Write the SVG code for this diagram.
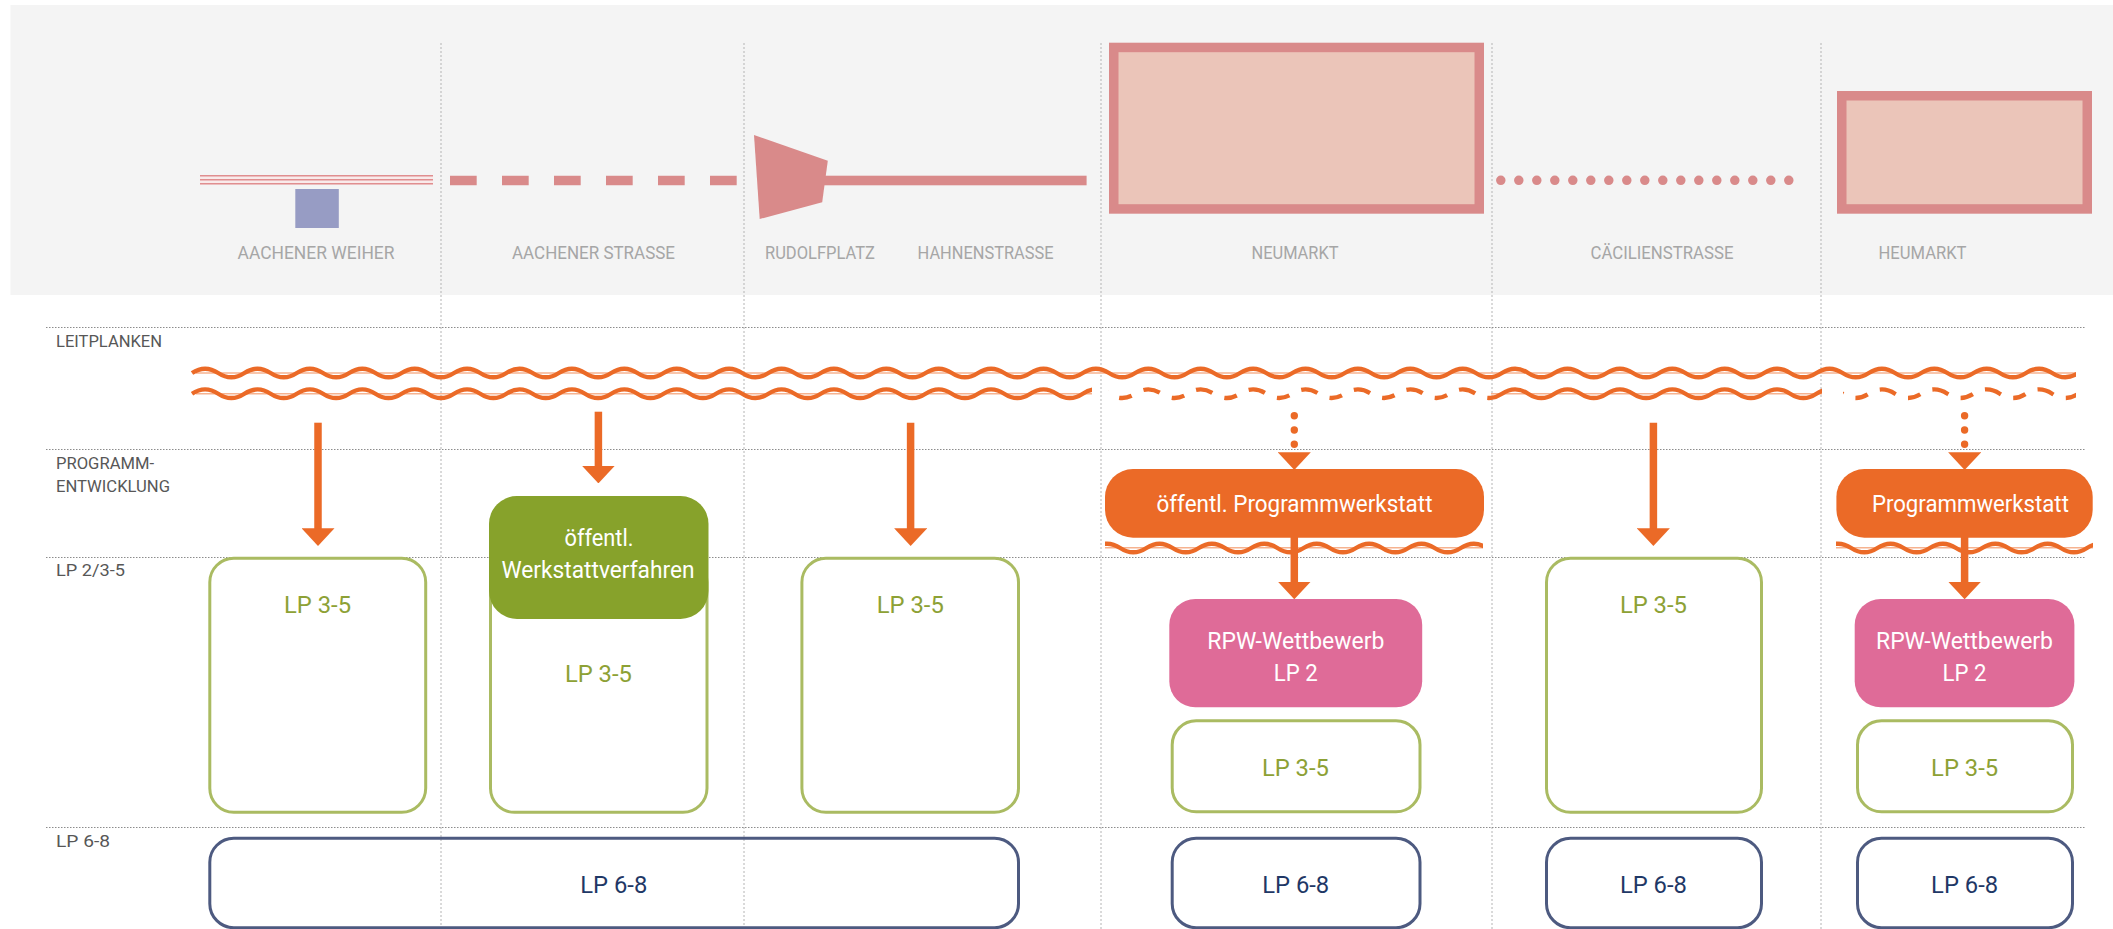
<svg xmlns="http://www.w3.org/2000/svg" xmlns:xlink="http://www.w3.org/1999/xlink" width="2113" height="929" viewBox="0 0 2113 929">
<defs>
<style>
.vgrid{stroke:#b4b4b4;stroke-width:1;stroke-dasharray:2 2;fill:none}
.hgrid{stroke:#8c8c8c;stroke-width:1;stroke-dasharray:1.5 1.5;fill:none}
.loc{font-family:Roboto,"Liberation Sans",sans-serif;font-size:17.5px;fill:#a6a6a6;text-anchor:middle}
.row{font-family:Roboto,"Liberation Sans",sans-serif;font-size:16px;fill:#575757}
.pink{fill:#d98a8a}
.wv{fill:none;stroke:#eb6a27;stroke-width:4.3}
.pale{stroke:#f6b28f;stroke-width:1.5;fill:none}
.dsh{stroke-dasharray:17 12.98 13 12.97;stroke-dashoffset:50.46}
.shaft{stroke:#eb6a27;stroke-width:7.5;fill:none;marker-end:url(#ah)}
.dots{stroke:#eb6a27;stroke-width:7.4;stroke-linecap:round;stroke-dasharray:0 14.3;fill:none;marker-end:url(#ah)}
.lp35{fill:none;stroke:#aabb62;stroke-width:3}
.lp68{fill:none;stroke:#4d5a80;stroke-width:3}
.bt{font-family:Roboto,"Liberation Sans",sans-serif;font-size:24px;text-anchor:middle}
.g{fill:#8da135}
.n{fill:#1f3866}
.w{fill:#ffffff}
</style>
<marker id="ah" markerUnits="userSpaceOnUse" viewBox="0 0 17.7 33" markerWidth="17.7" markerHeight="33" refX="0.7" refY="16.5" orient="auto">
<path d="M0,0 L17.7,16.5 L0,33 Z" fill="#eb6a27"/>
</marker>
<path id="wave" d="M192,0 q13.1,-8.6 26.2,0
t26.2,0 t26.2,0 t26.2,0 t26.2,0 t26.2,0 t26.2,0 t26.2,0 t26.2,0 t26.2,0 t26.2,0
t26.2,0 t26.2,0 t26.2,0 t26.2,0 t26.2,0 t26.2,0 t26.2,0 t26.2,0 t26.2,0 t26.2,0
t26.2,0 t26.2,0 t26.2,0 t26.2,0 t26.2,0 t26.2,0 t26.2,0 t26.2,0 t26.2,0 t26.2,0
t26.2,0 t26.2,0 t26.2,0 t26.2,0 t26.2,0 t26.2,0 t26.2,0 t26.2,0 t26.2,0 t26.2,0
t26.2,0 t26.2,0 t26.2,0 t26.2,0 t26.2,0 t26.2,0 t26.2,0 t26.2,0 t26.2,0 t26.2,0
t26.2,0 t26.2,0 t26.2,0 t26.2,0 t26.2,0 t26.2,0 t26.2,0 t26.2,0 t26.2,0 t26.2,0
t26.2,0 t26.2,0 t26.2,0 t26.2,0 t26.2,0 t26.2,0 t26.2,0 t26.2,0 t26.2,0 t26.2,0
t26.2,0 t26.2,0 t26.2,0 t26.2,0 t26.2,0 t26.2,0 t26.2,0 t26.2,0 t26.2,0 t26.2,0"/>
<path id="bwave" d="M0,0 q13.1,-8.6 26.2,0 t26.2,0 t26.2,0 t26.2,0 t26.2,0 t26.2,0 t26.2,0 t26.2,0 t26.2,0 t26.2,0 t26.2,0 t26.2,0 t26.2,0 t26.2,0 t26.2,0 t26.2,0"/>
<clipPath id="cCont"><rect x="180" y="370" width="912" height="40"/><rect x="1491" y="370" width="331" height="40"/></clipPath>
<clipPath id="cDash"><rect x="1108" y="370" width="383" height="40"/><rect x="1843" y="370" width="233" height="40"/></clipPath>
<clipPath id="cTop"><rect x="180" y="350" width="1896" height="40"/></clipPath>
<clipPath id="cB1"><rect x="1105" y="530" width="378" height="30"/></clipPath>
<clipPath id="cB2"><rect x="1836" y="530" width="257" height="30"/></clipPath>
</defs>

<g id="background">
<rect x="10.5" y="5" width="2102.5" height="290" fill="#f4f4f4"/>
</g>

<g id="grid">
<line class="vgrid" x1="441" y1="43" x2="441" y2="929"/>
<line class="vgrid" x1="744" y1="43" x2="744" y2="929"/>
<line class="vgrid" x1="1101" y1="43" x2="1101" y2="929"/>
<line class="vgrid" x1="1492" y1="43" x2="1492" y2="929"/>
<line class="vgrid" x1="1821" y1="43" x2="1821" y2="929"/>
<line class="hgrid" x1="46" y1="327.5" x2="2085" y2="327.5"/>
<line class="hgrid" x1="46" y1="449.5" x2="2085" y2="449.5"/>
<line class="hgrid" x1="46" y1="557.5" x2="2085" y2="557.5"/>
<line class="hgrid" x1="46" y1="827.5" x2="2085" y2="827.5"/>
</g>

<g id="aachener-weiher">
<rect x="200" y="175" width="233" height="9.5" fill="#f9eaea"/>
<line x1="200" y1="175.8" x2="433" y2="175.8" stroke="#e08e8f" stroke-width="1.4"/>
<line x1="200" y1="179.8" x2="433" y2="179.8" stroke="#e08e8f" stroke-width="1.4"/>
<line x1="200" y1="183.8" x2="433" y2="183.8" stroke="#e08e8f" stroke-width="1.4"/>
<rect x="295.3" y="189" width="43.5" height="39" fill="#979cc4"/>
<text class="loc" x="316" y="259.3" textLength="157" lengthAdjust="spacingAndGlyphs">AACHENER WEIHER</text>
</g>

<g id="aachener-strasse">
<line x1="450" y1="180.5" x2="737" y2="180.5" stroke="#d98a8a" stroke-width="9.6" stroke-dasharray="26.7 25.3"/>
<text class="loc" x="593.5" y="259.3" textLength="163" lengthAdjust="spacingAndGlyphs">AACHENER STRASSE</text>
</g>

<g id="rudolfplatz">
<polygon class="pink" points="754,135 827.8,160.7 822.2,202.3 759.7,219"/>
<text class="loc" x="820" y="259.3" textLength="110" lengthAdjust="spacingAndGlyphs">RUDOLFPLATZ</text>
</g>

<g id="hahnenstrasse">
<rect class="pink" x="820" y="175.7" width="266.6" height="9.6"/>
<text class="loc" x="985.6" y="259.3" textLength="136" lengthAdjust="spacingAndGlyphs">HAHNENSTRASSE</text>
</g>

<g id="neumarkt">
<rect x="1113.75" y="47.45" width="365.5" height="161.5" fill="#ebc5b9" stroke="#d98a8a" stroke-width="9.5"/>
<text class="loc" x="1295" y="259.3" textLength="87" lengthAdjust="spacingAndGlyphs">NEUMARKT</text>
</g>

<g id="caecilienstrasse">
<line x1="1500.8" y1="180.3" x2="1806.8" y2="180.3" stroke="#d98a8a" stroke-width="9.5" stroke-linecap="round" stroke-dasharray="0 18"/>
<text class="loc" x="1662" y="259.3" textLength="143" lengthAdjust="spacingAndGlyphs">CÄCILIENSTRASSE</text>
</g>

<g id="heumarkt">
<rect x="1841.75" y="95.75" width="245.5" height="113.2" fill="#ebc5b9" stroke="#d98a8a" stroke-width="9.5"/>
<text class="loc" x="1922.5" y="259.3" textLength="88" lengthAdjust="spacingAndGlyphs">HEUMARKT</text>
</g>

<g id="row-labels">
<text class="row" x="56" y="346.7" textLength="106" lengthAdjust="spacingAndGlyphs">LEITPLANKEN</text>
<text class="row" x="56" y="469" textLength="98" lengthAdjust="spacingAndGlyphs">PROGRAMM-</text>
<text class="row" x="56" y="492.3" textLength="114" lengthAdjust="spacingAndGlyphs">ENTWICKLUNG</text>
<text class="row" x="56" y="575.7" textLength="69" lengthAdjust="spacingAndGlyphs">LP 2/3-5</text>
<text class="row" x="56" y="846.7" textLength="54" lengthAdjust="spacingAndGlyphs">LP 6-8</text>
</g>

<g id="leitplanken">
<line class="pale" x1="196" y1="373" x2="2076" y2="373"/>
<g clip-path="url(#cTop)"><use xlink:href="#wave" href="#wave" class="wv" y="373"/></g>
<line class="pale" x1="196" y1="393.7" x2="1092" y2="393.7"/>
<line class="pale" x1="1491" y1="393.7" x2="1822" y2="393.7"/>
<g clip-path="url(#cCont)"><use xlink:href="#wave" href="#wave" class="wv" y="393.7"/></g>
<g clip-path="url(#cDash)"><use xlink:href="#wave" href="#wave" class="wv dsh" y="393.7"/></g>
</g>

<g id="node-lp35-1">
<rect class="lp35" x="209.8" y="558.2" width="215.9" height="254.1" rx="24"/>
<text class="bt g" x="317.5" y="612.7" textLength="67" lengthAdjust="spacingAndGlyphs">LP 3-5</text>
</g>
<g id="node-lp35-2">
<rect class="lp35" x="490.5" y="558.2" width="216.5" height="254.1" rx="24"/>
<text class="bt g" x="598.4" y="682.3" textLength="67" lengthAdjust="spacingAndGlyphs">LP 3-5</text>
</g>
<g id="node-werkstattverfahren">
<rect x="489" y="496" width="219.5" height="123" rx="28" fill="#87a22b"/>
<text class="bt w" x="599" y="546" font-size="23" textLength="69" lengthAdjust="spacingAndGlyphs">öffentl.</text>
<text class="bt w" x="598" y="578.3" font-size="23" textLength="193" lengthAdjust="spacingAndGlyphs">Werkstattverfahren</text>
</g>
<g id="node-lp35-3">
<rect class="lp35" x="801.9" y="558.2" width="216.6" height="254.1" rx="24"/>
<text class="bt g" x="910.3" y="612.7" textLength="67" lengthAdjust="spacingAndGlyphs">LP 3-5</text>
</g>

<g id="node-programmwerkstatt-1">
<g clip-path="url(#cB1)">
<line class="pale" x1="1105" y1="547.7" x2="1483" y2="547.7"/>
<use xlink:href="#bwave" href="#bwave" class="wv" x="1094" y="548"/>
</g>
<rect x="1105" y="469" width="379" height="68.7" rx="28" fill="#eb6a27"/>
<text class="bt w" x="1294.5" y="512.3" font-size="23" textLength="276" lengthAdjust="spacingAndGlyphs">öffentl. Programmwerkstatt</text>
</g>
<g id="node-rpw-1">
<rect x="1169.3" y="599" width="252.9" height="108.3" rx="26" fill="#df6b98"/>
<text class="bt w" x="1295.8" y="649.3" textLength="177" lengthAdjust="spacingAndGlyphs">RPW-Wettbewerb</text>
<text class="bt w" x="1295.8" y="680.7" textLength="44" lengthAdjust="spacingAndGlyphs">LP 2</text>
</g>
<g id="node-lp35-4">
<rect class="lp35" x="1172.2" y="720.8" width="247.8" height="91" rx="24"/>
<text class="bt g" x="1295.4" y="775.7" textLength="67" lengthAdjust="spacingAndGlyphs">LP 3-5</text>
</g>

<g id="node-lp35-5">
<rect class="lp35" x="1546.5" y="558.2" width="215" height="254.1" rx="24"/>
<text class="bt g" x="1653.4" y="612.7" textLength="67" lengthAdjust="spacingAndGlyphs">LP 3-5</text>
</g>

<g id="node-programmwerkstatt-2">
<g clip-path="url(#cB2)">
<line class="pale" x1="1836" y1="547.7" x2="2093" y2="547.7"/>
<use xlink:href="#bwave" href="#bwave" class="wv" x="1825" y="548"/>
</g>
<rect x="1836.4" y="469" width="256.3" height="68.7" rx="28" fill="#eb6a27"/>
<text class="bt w" x="1970.4" y="512.3" font-size="23" textLength="197" lengthAdjust="spacingAndGlyphs">Programmwerkstatt</text>
</g>
<g id="node-rpw-2">
<rect x="1854.7" y="599" width="219.7" height="108.3" rx="26" fill="#df6b98"/>
<text class="bt w" x="1964.5" y="649.3" textLength="177" lengthAdjust="spacingAndGlyphs">RPW-Wettbewerb</text>
<text class="bt w" x="1964.5" y="680.7" textLength="44" lengthAdjust="spacingAndGlyphs">LP 2</text>
</g>
<g id="node-lp35-6">
<rect class="lp35" x="1857.5" y="720.8" width="215" height="91" rx="24"/>
<text class="bt g" x="1964.6" y="775.7" textLength="67" lengthAdjust="spacingAndGlyphs">LP 3-5</text>
</g>

<g id="node-lp68-1">
<rect class="lp68" x="209.8" y="838.2" width="808.7" height="89.5" rx="24"/>
<text class="bt n" x="613.8" y="892.7" textLength="67" lengthAdjust="spacingAndGlyphs">LP 6-8</text>
</g>
<g id="node-lp68-2">
<rect class="lp68" x="1172.2" y="838.2" width="247.8" height="89.5" rx="24"/>
<text class="bt n" x="1295.7" y="892.7" textLength="67" lengthAdjust="spacingAndGlyphs">LP 6-8</text>
</g>
<g id="node-lp68-3">
<rect class="lp68" x="1546.5" y="838.2" width="215" height="89.5" rx="24"/>
<text class="bt n" x="1653.4" y="892.7" textLength="67" lengthAdjust="spacingAndGlyphs">LP 6-8</text>
</g>
<g id="node-lp68-4">
<rect class="lp68" x="1857.5" y="838.2" width="215" height="89.5" rx="24"/>
<text class="bt n" x="1964.6" y="892.7" textLength="67" lengthAdjust="spacingAndGlyphs">LP 6-8</text>
</g>

<g id="connectors">
<path class="shaft" d="M318,422.7 V529"/>
<path class="shaft" d="M598.4,411.7 V466.4"/>
<path class="shaft" d="M910.6,422.7 V529"/>
<path class="shaft" d="M1653.4,422.7 V529"/>
<path class="dots" d="M1294.3,415.7 V453"/>
<path class="dots" d="M1964.6,415.7 V453"/>
<path class="shaft" d="M1294.3,537 V582.3"/>
<path class="shaft" d="M1964.6,537 V582.3"/>
</g>
</svg>
